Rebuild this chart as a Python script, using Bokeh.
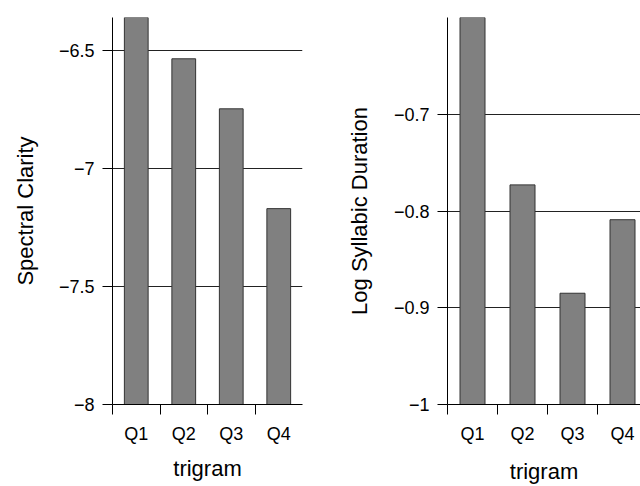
from bokeh.plotting import figure
from bokeh.layouts import row
from bokeh.models import Range1d, FixedTicker, ColumnDataSource
from bokeh.embed import file_html
from bokeh.resources import INLINE

# ---- data ----
categories = ["Q1", "Q2", "Q3", "Q4"]
spectral_clarity = [-6.36, -6.535, -6.747, -7.170]
log_syllabic_duration = [-0.600, -0.773, -0.885, -0.809]
left_yticks = [-8, -7.5, -7, -6.5]
left_ylabels = ["\u22128", "\u22127.5", "\u22127", "\u22126.5"]
right_yticks = [-1, -0.9, -0.8, -0.7]
right_ylabels = ["\u22121", "\u22120.9", "\u22120.8", "\u22120.7"]

FONT = "Liberation Sans"
xs = [i + 0.5 for i in range(len(categories))]
bounds = list(range(len(categories)))


def panel(values, yticks, ylabels, ytitle, ymax, xmax, width, borders, title_standoff, xtitle_standoff):
    bl, br, bt, bb = borders
    src = ColumnDataSource(dict(x=xs, top=values, bottom=[yticks[0]] * len(values)))
    p = figure(width=width, height=486, output_backend="svg", toolbar_location=None,
               x_range=Range1d(0, xmax), y_range=Range1d(yticks[0], ymax),
               min_border_left=bl, min_border_right=br, min_border_top=bt, min_border_bottom=bb)
    p.outline_line_color = None
    p.background_fill_color = "white"
    p.border_fill_color = "white"
    p.xgrid.visible = False
    p.ygrid.ticker = FixedTicker(ticks=yticks[1:])
    p.ygrid.grid_line_color = "#222222"
    p.ygrid.grid_line_width = 1
    p.vbar(x="x", top="top", bottom="bottom", width=0.5, source=src,
           fill_color="#808080", line_color="#333333", line_width=1)

    xa = p.xaxis[0]
    xa.ticker = FixedTicker(ticks=xs, minor_ticks=bounds)
    xa.major_label_overrides = {x: c for x, c in zip(xs, categories)}
    xa.minor_tick_line_color = "black"
    xa.minor_tick_out = 10
    xa.minor_tick_in = 0
    xa.major_label_standoff = 9
    xa.axis_label = "trigram"
    xa.axis_label_standoff = xtitle_standoff

    ya = p.yaxis[0]
    ya.ticker = FixedTicker(ticks=yticks)
    ya.major_label_overrides = {t: l for t, l in zip(yticks, ylabels)}
    ya.major_tick_out = 10
    ya.major_tick_in = 0
    ya.minor_tick_line_color = None
    ya.major_label_standoff = 8
    ya.axis_label = ytitle
    ya.axis_label_standoff = title_standoff

    for ax in (xa, ya):
        ax.axis_line_color = "black"
        ax.axis_line_width = 1
        ax.major_tick_line_color = None if ax is xa else "black"
        ax.major_label_text_font = FONT
        ax.major_label_text_font_size = "18px"
        ax.major_label_text_color = "black"
        ax.axis_label_text_font = FONT
        ax.axis_label_text_font_size = "22px"
        ax.axis_label_text_font_style = "normal"
        ax.axis_label_text_color = "black"
    return p


p1 = panel(spectral_clarity, left_yticks, left_ylabels, "Spectral Clarity",
           spectral_clarity[0], 4, 320, (112, 18, 15, 82), 18, 9)
p2 = panel(log_syllabic_duration, right_yticks, right_ylabels, "Log Syllabic Duration",
           log_syllabic_duration[0], 193 / 50, 320, (127, 0, 17, 81), 19, 12)

layout = row(p1, p2)
open("out.html", "w").write(file_html(layout, INLINE))
